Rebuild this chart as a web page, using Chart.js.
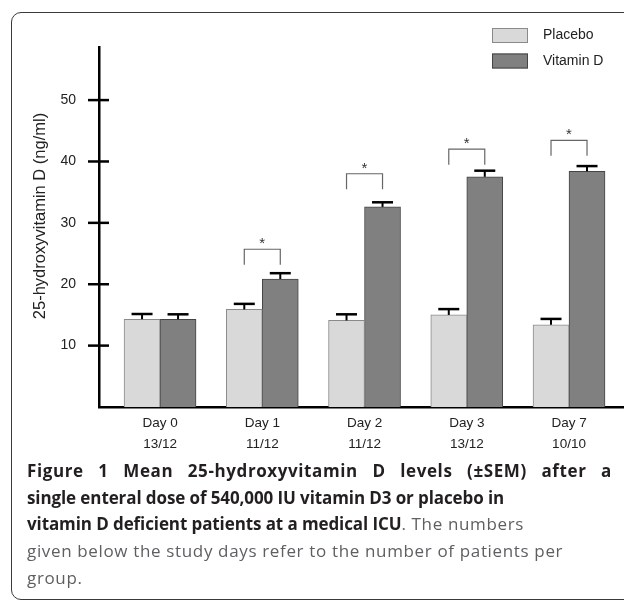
<!DOCTYPE html>
<html lang="en">
<head>
<meta charset="UTF-8">
<title>25-hydroxyvitamin D levels</title>
<script src="https://cdn.jsdelivr.net/npm/chart.js"></script>
<style>
  body { margin: 0; background: #fff; }
  #wrap { position: relative; width: 624px; height: 601px; overflow: hidden; }
  #frame { position: absolute; left: 11px; top: 12px; width: 700px; height: 586px;
           border: 1.5px solid #3a3a3a; border-radius: 10px; }
  #chart { position: absolute; left: 0; top: 0; }
  #caption { position: absolute; left: 27px; top: 458px; font-family: "Open Sans", sans-serif;
             font-size: 17px; line-height: 26.7px; color: #5e5f61; letter-spacing: 0.65px; }
  #caption div { white-space: nowrap; }
  #caption b { color: #231f20; font-weight: 700; letter-spacing: -0.1px; }
  #caption .first { width: 585px; text-align: justify; text-align-last: justify; }
  #caption .first b { letter-spacing: 0.6px; }
</style>
</head>
<body>
<div id="wrap">
  <div id="frame"></div>
  <canvas id="chart" width="624" height="460"></canvas>
  <div id="caption">
    <div class="first"><b>Figure 1 Mean 25-hydroxyvitamin D levels (±SEM) after a</b></div>
    <div><b>single enteral dose of 540,000 IU vitamin D3 or placebo in</b></div>
    <div><b>vitamin D deficient patients at a medical ICU</b>. The numbers</div>
    <div>given below the study days refer to the number of patients per</div>
    <div>group.</div>
  </div>
</div>
<script>
  // data
  const days = ['Day 0', 'Day 1', 'Day 2', 'Day 3', 'Day 7'];
  const counts = ['13/12', '11/12', '11/12', '13/12', '10/10'];
  const placebo = [14.3, 15.9, 14.1, 15.0, 13.4];
  const placeboSem = [0.85, 0.9, 1.0, 0.95, 0.95];
  const vitaminD = [14.3, 20.85, 32.6, 37.5, 38.4];
  const vitaminDSem = [0.8, 0.95, 0.75, 1.0, 0.85];
  // significance brackets (top of bracket, ng/ml), null = none
  const bracketTop = [null, 25.7, 38.0, 42.0, 43.45];
  const yTicks = [10, 20, 30, 40, 50];

  const font = "'Liberation Sans', Arial, sans-serif";
  const sems = [placeboSem, vitaminDSem];

  const overlay = {
    id: 'overlay',
    afterDatasetsDraw(chart) {
      const ctx = chart.ctx;
      const y = chart.scales.y;
      const area = chart.chartArea;
      ctx.save();

      // error bars (upper half only)
      chart.data.datasets.forEach((ds, di) => {
        chart.getDatasetMeta(di).data.forEach((bar, i) => {
          const top = y.getPixelForValue(ds.data[i].y + sems[di][i]);
          ctx.strokeStyle = '#000';
          ctx.lineWidth = 2;
          ctx.beginPath();
          ctx.moveTo(bar.x, bar.y);
          ctx.lineTo(bar.x, top);
          ctx.stroke();
          ctx.lineWidth = 2.5;
          ctx.beginPath();
          ctx.moveTo(bar.x - 10.5, top);
          ctx.lineTo(bar.x + 10.5, top);
          ctx.stroke();
        });
      });

      // brackets + stars
      const m0 = chart.getDatasetMeta(0).data;
      const m1 = chart.getDatasetMeta(1).data;
      bracketTop.forEach((v, i) => {
        if (v == null) return;
        const x1 = m0[i].x, x2 = m1[i].x;
        const yt = y.getPixelForValue(v);
        ctx.strokeStyle = '#666';
        ctx.lineWidth = 1.2;
        ctx.beginPath();
        ctx.moveTo(x1, yt + 15.5);
        ctx.lineTo(x1, yt);
        ctx.lineTo(x2, yt);
        ctx.lineTo(x2, yt + 15.5);
        ctx.stroke();
        ctx.fillStyle = '#333';
        ctx.font = '15px ' + font;
        ctx.textAlign = 'center';
        ctx.textBaseline = 'alphabetic';
        ctx.fillText('*', (x1 + x2) / 2, yt - 1);
      });

      // y tick marks crossing the axis
      ctx.strokeStyle = '#000';
      ctx.lineWidth = 2.5;
      yTicks.forEach(v => {
        const py = y.getPixelForValue(v);
        ctx.beginPath();
        ctx.moveTo(area.left - 11, py);
        ctx.lineTo(area.left + 10, py);
        ctx.stroke();
      });

      // y title
      ctx.save();
      ctx.translate(40, 216);
      ctx.rotate(-Math.PI / 2);
      ctx.fillStyle = '#222';
      ctx.font = '16.5px ' + font;
      ctx.textAlign = 'center';
      ctx.textBaseline = 'middle';
      ctx.fillText('25-hydroxyvitamin D (ng/ml)', 0, 0);
      ctx.restore();

      // legend
      ctx.font = '14px ' + font;
      ctx.textAlign = 'left';
      ctx.textBaseline = 'middle';
      chart.data.datasets.forEach((ds, di) => {
        const by = 28 + di * 25.5;
        ctx.fillStyle = ds.backgroundColor;
        ctx.fillRect(492, by, 36, 15);
        ctx.strokeStyle = ds.borderColor;
        ctx.lineWidth = 1;
        ctx.strokeRect(492.5, by + 0.5, 35, 14);
        ctx.fillStyle = '#222';
        ctx.fillText(ds.label, 543, by + 7.5);
      });

      ctx.restore();
    }
  };

  const config = {
    type: 'bar',
    plugins: [overlay],
    data: {
      datasets: [
        {
          label: 'Placebo',
          data: placebo.map((v, i) => ({ x: i, y: v })),
          backgroundColor: '#d9d9d9',
          borderColor: '#8a8a8a',
          borderWidth: 1,
          barThickness: 36
        },
        {
          label: 'Vitamin D',
          data: vitaminD.map((v, i) => ({ x: i, y: v })),
          backgroundColor: '#808080',
          borderColor: '#444444',
          borderWidth: 1,
          barThickness: 36
        }
      ]
    },
    options: {
      responsive: false,
      animation: false,
      layout: { padding: { left: 0, right: 1, top: 47, bottom: 0 } },
      scales: {
        x: {
          type: 'linear',
          offset: false,
          min: -0.597,
          max: 4.528,
          grid: { display: false, drawTicks: false },
          border: { color: '#000', width: 2.5 },
          afterBuildTicks: s => { s.ticks = days.map((d, i) => ({ value: i })); },
          afterFit: s => { s.height = 53; },
          ticks: {
            padding: 5,
            color: '#222',
            font: { family: font, size: 13.5, lineHeight: 1.6 },
            callback: v => [days[v], counts[v]]
          }
        },
        y: {
          min: 0,
          max: 58.65,
          grid: { display: false, drawTicks: false },
          border: { color: '#000', width: 2.5 },
          afterBuildTicks: s => { s.ticks = yTicks.map(v => ({ value: v })); },
          afterFit: s => { s.width = 99; },
          ticks: {
            padding: 23,
            color: '#222',
            font: { family: font, size: 14 }
          }
        }
      },
      plugins: {
        legend: { display: false },
        tooltip: { enabled: false }
      }
    }
  };

  new Chart(document.getElementById('chart'), config);
</script>
</body>
</html>
